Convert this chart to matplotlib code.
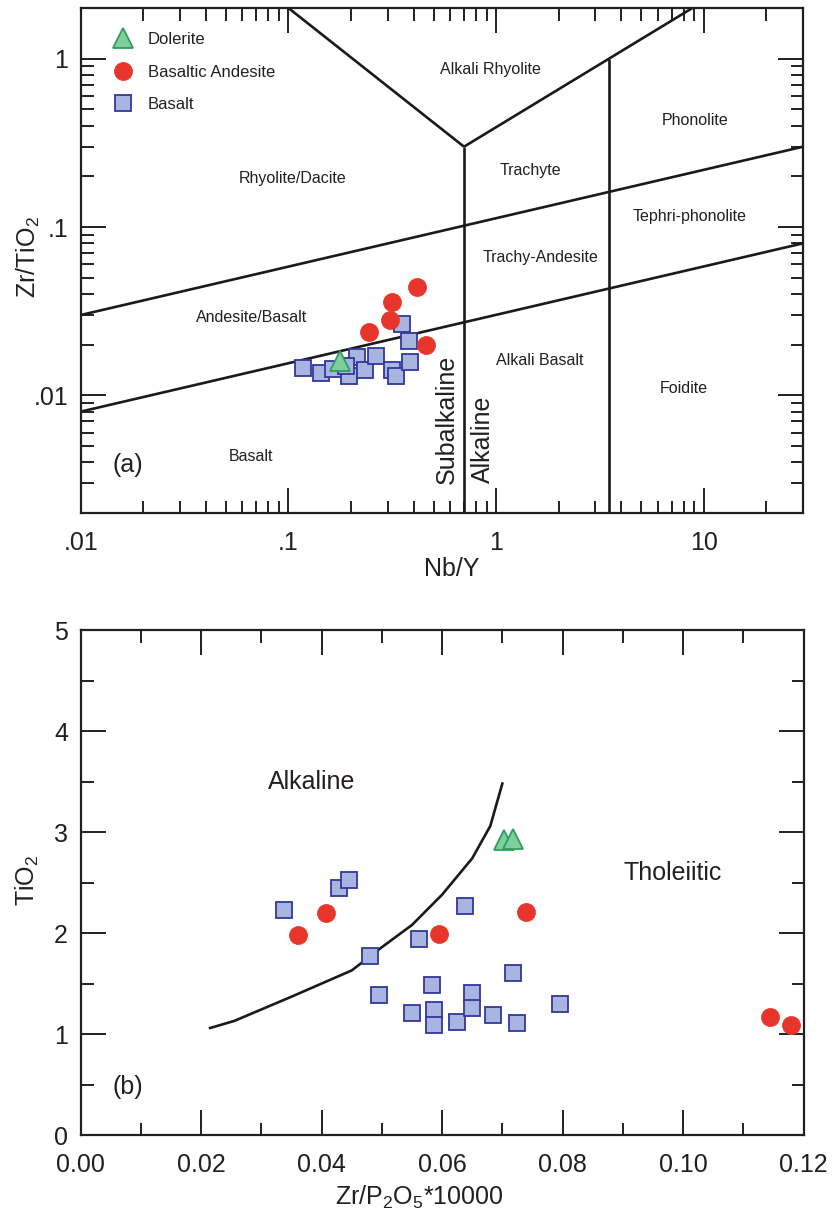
import matplotlib
matplotlib.use("Agg")
import matplotlib.pyplot as plt
from matplotlib.ticker import FixedLocator, FixedFormatter, MultipleLocator, FormatStrFormatter, LogLocator, NullFormatter

plt.rcParams['font.family'] = ['Liberation Sans', 'DejaVu Sans']
plt.rcParams['mathtext.default'] = 'regular'

TXT = '#231f20'
RED = '#e8352b'
SQ_FACE = '#a9b5e1'
SQ_EDGE = '#34379a'
TRI_FACE = '#7fcf9c'
TRI_EDGE = '#2e9e5c'

# ---------------- Panel (a) data: Nb/Y vs Zr/TiO2 ----------------
dol_a_x = [0.178]
dol_a_y = [0.0161]
ba_a_x = [0.414, 0.314, 0.307, 0.243, 0.457]
ba_a_y = [0.0442, 0.0360, 0.0282, 0.0239, 0.0198]
bas_a_x = [0.117, 0.143, 0.163, 0.195, 0.213, 0.233, 0.263, 0.314, 0.328, 0.383, 0.379, 0.351, 0.190]
bas_a_y = [0.01445, 0.0135, 0.0143, 0.0131, 0.0170, 0.01406, 0.0172, 0.0141, 0.0131, 0.01567, 0.0209, 0.0267, 0.0150]

# classification boundaries (Pearce 1996)
bnd_low_x = [0.01, 30]
bnd_low_y = [0.008, 0.08]
bnd_up_x = [0.01, 30]
bnd_up_y = [0.03, 0.3]
bnd_v1_x = [0.7, 0.7]
bnd_v1_y = [0.002, 0.3]
bnd_v2_x = [3.5, 3.5]
bnd_v2_y = [0.002, 1.0]
bnd_left_x = [0.1, 0.7]
bnd_left_y = [2.0, 0.3]
bnd_right_x = [0.7, 8.8]
bnd_right_y = [0.3, 2.0]

fields_a = [
    ("Alkali Rhyolite", 0.94, 0.86),
    ("Phonolite", 9.1, 0.43),
    ("Rhyolite/Dacite", 0.105, 0.195),
    ("Trachyte", 1.46, 0.217),
    ("Tephri-phonolite", 8.5, 0.116),
    ("Trachy-Andesite", 1.63, 0.0656),
    ("Andesite/Basalt", 0.0667, 0.029),
    ("Alkali Basalt", 1.62, 0.0161),
    ("Foidite", 8.0, 0.011),
    ("Basalt", 0.066, 0.00435),
]

xt_a = [0.01, 0.1, 1, 10]
xt_a_lab = ['.01', '.1', '1', '10']
yt_a = [0.01, 0.1, 1]
yt_a_lab = ['.01', '.1', '1']

# ---------------- Panel (b) data: Zr/P2O5*10000 vs TiO2 ----------------
dol_b_x = [0.0702, 0.0717]
dol_b_y = [2.92, 2.93]
ba_b_x = [0.0407, 0.0361, 0.0595, 0.0739, 0.1144, 0.1179]
ba_b_y = [2.20, 1.98, 1.99, 2.21, 1.17, 1.09]
bas_b_x = [0.0338, 0.0429, 0.0445, 0.0638, 0.0562, 0.0480, 0.0495, 0.0583, 0.0717,
           0.0795, 0.0550, 0.0586, 0.0587, 0.0624, 0.0650, 0.0650, 0.0685, 0.0724]
bas_b_y = [2.23, 2.45, 2.53, 2.27, 1.94, 1.77, 1.39, 1.49, 1.60,
           1.30, 1.21, 1.24, 1.09, 1.12, 1.41, 1.26, 1.19, 1.11]
curve_x = [0.0215, 0.0255, 0.035, 0.045, 0.050, 0.055, 0.060, 0.065, 0.068, 0.070]
curve_y = [1.06, 1.13, 1.37, 1.63, 1.86, 2.08, 2.38, 2.74, 3.06, 3.48]

# ---------------- Figure ----------------
fig = plt.figure(figsize=(8.32, 12.15), dpi=100)
axA = fig.add_axes([0.0970, 0.5778, 0.8682, 0.4156])
axB = fig.add_axes([0.0969, 0.0658, 0.8689, 0.4156])

LW = 1.9
for ax in (axA, axB):
    for s in ax.spines.values():
        s.set_linewidth(1.6)
        s.set_color(TXT)

# Panel a
axA.set_xscale('log')
axA.set_yscale('log')
axA.set_xlim(0.01, 30)
axA.set_ylim(0.002, 2)
for bx, by in [(bnd_low_x, bnd_low_y), (bnd_up_x, bnd_up_y), (bnd_v1_x, bnd_v1_y),
               (bnd_v2_x, bnd_v2_y), (bnd_left_x, bnd_left_y), (bnd_right_x, bnd_right_y)]:
    axA.plot(bx, by, color='#1a1a1a', lw=LW, solid_capstyle='butt', zorder=2)

for name, fx, fy in fields_a:
    axA.text(fx, fy, name, ha='center', va='center', fontsize=11.5, color=TXT)
axA.text(0.577, 0.0072, "Subalkaline", rotation=90, ha='center', va='center', fontsize=18, color=TXT)
axA.text(0.86, 0.0055, "Alkaline", rotation=90, ha='center', va='center', fontsize=18, color=TXT)
axA.text(0.065, 0.095, "(a)", transform=axA.transAxes, ha='center', va='center', fontsize=18, color=TXT)

axA.plot(bas_a_x, bas_a_y, ls='none', marker='s', ms=12, mfc=SQ_FACE, mec=SQ_EDGE, mew=1.3, zorder=3, label='Basalt')
axA.plot(ba_a_x, ba_a_y, ls='none', marker='o', ms=13, mfc=RED, mec=RED, mew=0.5, zorder=4, label='Basaltic Andesite')
axA.plot(dol_a_x, dol_a_y, ls='none', marker='^', ms=14, mfc=TRI_FACE, mec=TRI_EDGE, mew=1.3, zorder=5, label='Dolerite')

h, l = axA.get_legend_handles_labels()
order = [2, 1, 0]
leg = axA.legend([h[i] for i in order], [l[i] for i in order], loc='upper left',
                 bbox_to_anchor=(0.02, 0.975), frameon=False, fontsize=12,
                 handletextpad=0.45, labelspacing=1.05, borderaxespad=0.3)
for t in leg.get_texts():
    t.set_color(TXT)

axA.xaxis.set_major_locator(FixedLocator(xt_a))
axA.xaxis.set_major_formatter(FixedFormatter(xt_a_lab))
axA.yaxis.set_major_locator(FixedLocator(yt_a))
axA.yaxis.set_major_formatter(FixedFormatter(yt_a_lab))
axA.xaxis.set_minor_locator(LogLocator(base=10, subs=range(2, 10)))
axA.yaxis.set_minor_locator(LogLocator(base=10, subs=range(2, 10)))
axA.xaxis.set_minor_formatter(NullFormatter())
axA.yaxis.set_minor_formatter(NullFormatter())
axA.set_xlabel("Nb/Y", fontsize=18, color=TXT)
axA.xaxis.set_label_coords(0.514, -0.088)
axA.set_ylabel("Zr/TiO$_2$", fontsize=18, color=TXT)
axA.yaxis.set_label_coords(-0.073, 0.507)
axA.yaxis.label.set_va('center')

# Panel b
axB.set_xlim(0, 0.12)
axB.set_ylim(0, 5)
axB.plot(curve_x, curve_y, color='#1a1a1a', lw=LW, zorder=2)
axB.text(0.0384, 3.50, "Alkaline", ha='center', va='center', fontsize=18, color=TXT)
axB.text(0.0982, 2.59, "Tholeiitic", ha='center', va='center', fontsize=18, color=TXT)
axB.text(0.065, 0.095, "(b)", transform=axB.transAxes, ha='center', va='center', fontsize=18, color=TXT)

axB.plot(bas_b_x, bas_b_y, ls='none', marker='s', ms=12, mfc=SQ_FACE, mec=SQ_EDGE, mew=1.3, zorder=3)
axB.plot(ba_b_x, ba_b_y, ls='none', marker='o', ms=13, mfc=RED, mec=RED, mew=0.5, zorder=4)
axB.plot(dol_b_x, dol_b_y, ls='none', marker='^', ms=14, mfc=TRI_FACE, mec=TRI_EDGE, mew=1.3, zorder=5)

axB.xaxis.set_major_locator(MultipleLocator(0.02))
axB.xaxis.set_minor_locator(MultipleLocator(0.01))
axB.xaxis.set_major_formatter(FormatStrFormatter('%.2f'))
axB.yaxis.set_major_locator(MultipleLocator(1))
axB.yaxis.set_minor_locator(MultipleLocator(0.5))
axB.set_xlabel("Zr/P$_2$O$_5$*10000", fontsize=18, color=TXT)
axB.xaxis.set_label_coords(0.469, -0.097)
axB.set_ylabel("TiO$_2$", fontsize=18, color=TXT)
axB.yaxis.set_label_coords(-0.073, 0.505)
axB.yaxis.label.set_va('center')

for ax in (axA, axB):
    ax.tick_params(which='both', direction='in', top=True, right=True, colors=TXT,
                   labelsize=18, width=1.4)
    ax.tick_params(which='major', length=18)
    ax.tick_params(which='minor', length=9)
    ax.tick_params(axis='x', which='major', pad=13)
    ax.tick_params(axis='y', which='major', pad=9)

fig.savefig("out.png", dpi=100)
